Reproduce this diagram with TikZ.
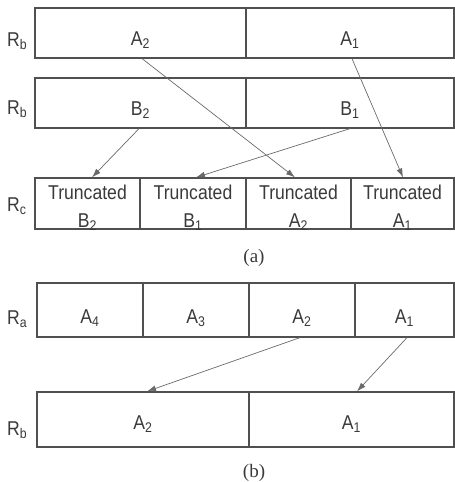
\documentclass[tikz,border=0pt]{standalone}
\usepackage{fontspec}
\setmainfont{Liberation Sans}[FakeStretch=0.88]
\newfontfamily\capfont{Liberation Serif}
\usetikzlibrary{arrows.meta}
\definecolor{edge}{HTML}{505050}
\definecolor{ink}{HTML}{3A3A3A}
\definecolor{link}{HTML}{6A6A6A}
\tikzset{
  cell/.style={draw=edge, line width=1.2pt, inner sep=0pt, text=ink,
    text depth=0pt, font=\fontsize{20}{22}\selectfont},
  drop/.style={text height=#1},
  word/.style={inner sep=0pt, text=ink, align=center,
    font=\fontsize{20}{28}\selectfont},
  regname/.style={inner sep=0pt, text=ink, anchor=base west,
    font=\fontsize{20}{22}\selectfont},
  caption/.style={inner sep=0pt, text=ink, font=\capfont\fontsize{19}{22}\selectfont},
  move/.style={draw=link, line width=0.7pt, -{Latex[length=9pt,width=6pt]}}
}
\newcommand{\sub}[1]{\textsubscript{#1}}
\begin{document}
\begin{tikzpicture}[x=1pt,y=-1pt]
\useasboundingbox (0,0) rectangle (455,482);

% ---- (a): two source registers and the packed result ----
\node[regname] (r1) at (7,46) {R\sub{b}};
\node[cell, drop=24, minimum width=211, minimum height=50] (xa2) at (140.5,33) {A\sub{2}};
\node[cell, drop=24, minimum width=208, minimum height=50] (xa1) at (350,33) {A\sub{1}};

\node[regname] (r2) at (7,114) {R\sub{b}};
\node[cell, drop=24, minimum width=211, minimum height=50] (xb2) at (140.5,103) {B\sub{2}};
\node[cell, drop=24, minimum width=208, minimum height=50] (xb1) at (350,103) {B\sub{1}};

\node[regname] (r3) at (7,211) {R\sub{c}};
\node[cell, minimum width=105, minimum height=51] (tb2) at (87.5,203.5) {};
\node[cell, minimum width=106, minimum height=51] (tb1) at (193,203.5) {};
\node[cell, minimum width=105, minimum height=51] (ta2) at (298.5,203.5) {};
\node[cell, minimum width=103, minimum height=51] (ta1) at (402.5,203.5) {};
\node[word] (wb2) at ([yshift=-4]tb2.center) {Truncated\\B\sub{2}};
\node[word] (wb1) at ([yshift=-4]tb1.center) {Truncated\\B\sub{1}};
\node[word] (wa2) at ([yshift=-4]ta2.center) {Truncated\\A\sub{2}};
\node[word] (wa1) at ([yshift=-4]ta1.center) {Truncated\\A\sub{1}};

\draw[move] (xa2.south -| 142,0) -- (ta2.north -| 295,0);
\draw[move] (xa1.south -| 352,0) -- (ta1.north -| 403,0);
\draw[move] (xb2.south -| 139,0) -- (tb2.north -| 92,0);
\draw[move] (xb1.south -| 350,0) -- (tb1.north -| 196,0);

\node[caption] (capa) at (254,258) {(a)};

% ---- (b): four-field register split into two halves ----
\node[regname] (r4) at (7,324) {R\sub{a}};
\node[cell, drop=26, minimum width=106, minimum height=54] (ya4) at (90,310) {A\sub{4}};
\node[cell, drop=26, minimum width=106, minimum height=54] (ya3) at (196,310) {A\sub{3}};
\node[cell, drop=26, minimum width=106, minimum height=54] (ya2) at (302,310) {A\sub{2}};
\node[cell, drop=26, minimum width=99, minimum height=54] (ya1) at (404.5,310) {A\sub{1}};

\node[regname] (r5) at (7,435) {R\sub{b}};
\node[cell, drop=20, minimum width=212, minimum height=55] (zb2) at (143,419.5) {A\sub{2}};
\node[cell, drop=20, minimum width=205, minimum height=55] (zb1) at (351.5,419.5) {A\sub{1}};

\draw[move] (ya2.south -| 300,0) -- (zb2.north -| 147,0);
\draw[move] (ya1.south -| 407,0) -- (zb1.north -| 357,0);

\node[caption] (capb) at (254,473) {(b)};
\end{tikzpicture}
\end{document}
